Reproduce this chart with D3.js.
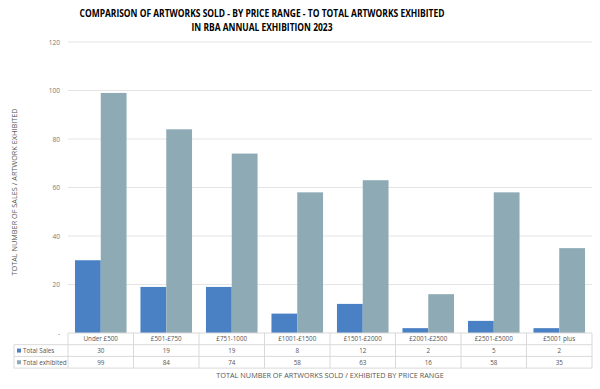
<!DOCTYPE html>
<html>
<head>
<meta charset="utf-8">
<script src="https://d3js.org/d3.v7.min.js"></script>
<style>
  body { margin: 0; background: #fff; }
  text { font-family: "Open Sans", "Liberation Sans", sans-serif; }
</style>
</head>
<body>
<div id="chart"></div>
<script>
// data
const categories = ["Under £500", "£501-£750", "£751-1000", "£1001-£1500", "£1501-£2000", "£2001-£2500", "£2501-£5000", "£5001 plus"];
const totalSales = [30, 19, 19, 8, 12, 2, 5, 2];
const totalExhibited = [99, 84, 74, 58, 63, 16, 58, 35];
const seriesNames = ["Total Sales", "Total exhibited"];
const yTicks = [0, 20, 40, 60, 80, 100, 120];

const colors = ["#4a80c4", "#8eaab4"];
const W = 600, H = 389;
const margin = { top: 42, right: 8, bottom: 56, left: 68 };
const plotW = W - margin.left - margin.right,
      plotH = H - margin.top - margin.bottom;

const svg = d3.select("#chart").append("svg")
  .attr("width", W).attr("height", H);

// title (reference font is narrower, so squeeze to the measured width)
svg.append("text")
  .attr("x", 262).attr("y", 17)
  .attr("text-anchor", "middle")
  .attr("textLength", 365).attr("lengthAdjust", "spacingAndGlyphs")
  .style("font-size", "10.5px").style("font-weight", "bold")
  .text("COMPARISON OF ARTWORKS SOLD - BY PRICE RANGE - TO TOTAL ARTWORKS EXHIBITED");
svg.append("text")
  .attr("x", 262).attr("y", 31)
  .attr("text-anchor", "middle")
  .attr("textLength", 141).attr("lengthAdjust", "spacingAndGlyphs")
  .style("font-size", "10.5px").style("font-weight", "bold")
  .text("IN RBA ANNUAL EXHIBITION 2023");

const g = svg.append("g").attr("transform", `translate(${margin.left},${margin.top})`);

const y = d3.scaleLinear().domain([0, 120]).range([plotH, 0]);
const x0 = d3.scaleBand().domain(categories).range([0, plotW]);
const x1 = d3.scaleBand().domain(seriesNames).range([0, x0.bandwidth()]).paddingOuter(0.27);

// gridlines
g.append("g")
  .selectAll("line").data(yTicks.slice(1)).join("line")
  .attr("x1", 0).attr("x2", plotW)
  .attr("y1", d => y(d)).attr("y2", d => y(d))
  .attr("stroke", "#e4e4e4").attr("stroke-width", 1);

// y tick labels
g.append("g")
  .selectAll("text").data(yTicks).join("text")
  .attr("x", -8).attr("y", d => y(d) + 2.5)
  .attr("text-anchor", "end")
  .attr("fill", "#777")
  .style("font-size", "6.5px")
  .text(d => d === 0 ? "-" : d);

// bars
const series = [totalSales, totalExhibited];
series.forEach((vals, si) => {
  g.append("g").selectAll("rect").data(vals).join("rect")
    .attr("x", (d, i) => x0(categories[i]) + x1(seriesNames[si]))
    .attr("y", d => y(d))
    .attr("width", x1.bandwidth())
    .attr("height", d => plotH - y(d))
    .attr("fill", colors[si]);
});

// data table
const rowH = 11.7;
const tableTop = plotH;
const tbl = g.append("g").attr("transform", `translate(0,${tableTop})`);
const lineColor = "#d9d9d9";
const legendLeft = -54;

// horizontal lines
[0, 1, 2, 3].forEach(r => {
  tbl.append("line")
    .attr("x1", r === 0 ? 0 : legendLeft).attr("x2", plotW)
    .attr("y1", r * rowH).attr("y2", r * rowH)
    .attr("stroke", lineColor);
});
// vertical lines
d3.range(categories.length + 1).forEach(i => {
  tbl.append("line")
    .attr("x1", i * x0.bandwidth()).attr("x2", i * x0.bandwidth())
    .attr("y1", 0).attr("y2", 3 * rowH)
    .attr("stroke", lineColor);
});
tbl.append("line")
  .attr("x1", legendLeft).attr("x2", legendLeft)
  .attr("y1", rowH).attr("y2", 3 * rowH)
  .attr("stroke", lineColor);

// header
tbl.selectAll("text.hdr").data(categories).join("text")
  .attr("class", "hdr")
  .attr("x", d => x0(d) + x0.bandwidth() / 2)
  .attr("y", rowH / 2 + 2.3)
  .attr("text-anchor", "middle")
  .attr("fill", "#555")
  .style("font-size", "6.3px")
  .text(d => d);

series.forEach((vals, si) => {
  const ry = (si + 1) * rowH;
  tbl.append("rect")
    .attr("x", legendLeft + 3).attr("y", ry + rowH / 2 - 2)
    .attr("width", 4).attr("height", 4)
    .attr("fill", colors[si]);
  tbl.append("text")
    .attr("x", legendLeft + 9).attr("y", ry + rowH / 2 + 2.3)
    .attr("fill", "#555")
    .style("font-size", "6.3px")
    .text(seriesNames[si]);
  tbl.selectAll(null).data(vals).join("text")
    .attr("x", (d, i) => x0(categories[i]) + x0.bandwidth() / 2)
    .attr("y", ry + rowH / 2 + 2.3)
    .attr("text-anchor", "middle")
    .attr("fill", "#555")
    .style("font-size", "6.3px")
    .text(d => d);
});

// axis titles
svg.append("text")
  .attr("x", 330).attr("y", 378)
  .attr("text-anchor", "middle")
  .attr("fill", "#555")
  .style("font-size", "7.3px")
  .text("TOTAL NUMBER OF ARTWORKS SOLD / EXHIBITED BY PRICE RANGE");

svg.append("text")
  .attr("transform", "translate(17,192) rotate(-90)")
  .attr("text-anchor", "middle")
  .attr("fill", "#555")
  .style("font-size", "7.3px")
  .text("TOTAL NUMBER OF SALES / ARTWORK EXHIBITED");
</script>
</body>
</html>
